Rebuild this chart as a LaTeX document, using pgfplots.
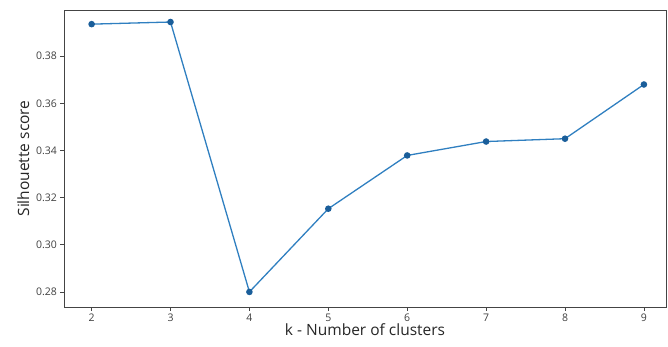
\documentclass[border=0pt]{standalone}
\usepackage{pgfplots}
\pgfplotsset{compat=1.18}
\usepackage{fontspec}
\setmainfont{Open Sans}
\definecolor{lineblue}{HTML}{2F7FC0}
\definecolor{markblue}{HTML}{1A5E9A}
\definecolor{framegray}{HTML}{444444}
\begin{document}
\begin{tikzpicture}
\useasboundingbox (-64pt,-39pt) rectangle (604pt,307pt);
\begin{axis}[
  at={(0,0)}, anchor=south west,
  scale only axis, width=602pt, height=297pt,
  xmin=1.65, xmax=9.28, ymin=0.2736, ymax=0.3996,
  xtick={2,3,4,5,6,7,8,9},
  ytick={0.28,0.30,0.32,0.34,0.36,0.38},
  yticklabel style={/pgf/number format/fixed,/pgf/number format/fixed zerofill,/pgf/number format/precision=2},
  /pgf/number format/assume math mode=true,
  tick align=outside, tick pos=left,
  major tick length=3.5pt,
  every tick/.style={framegray, line width=0.6pt},
  axis line style={framegray, line width=0.8pt},
  ticklabel style={font=\fontsize{10.5}{12}\selectfont, text=black!75},
  xlabel={k - Number of clusters},
  ylabel={Silhouette score},
  label style={font=\fontsize{15.5}{17}\selectfont, text=black!85},
  xlabel style={yshift=5pt},
  ylabel style={yshift=0pt},
]
\addplot[color=lineblue, line width=1.3pt, mark=*, mark size=2.6pt,
  mark options={fill=markblue, draw=markblue}]
coordinates {
(2,0.3936) (3,0.3945) (4,0.2800) (5,0.3153) (6,0.3379) (7,0.3438) (8,0.3450) (9,0.3680)
};
\end{axis}
\end{tikzpicture}
\end{document}
